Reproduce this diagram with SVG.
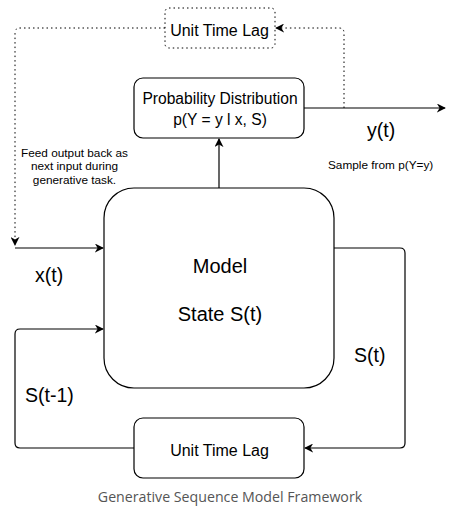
<svg xmlns="http://www.w3.org/2000/svg" width="453" height="512" viewBox="0 0 453 512">
<style>
.box{fill:#fff;stroke:#000;stroke-width:1.2}
.dot{fill:#fff;stroke:#000;stroke-width:1;stroke-dasharray:1.5 3}
.ln{fill:none;stroke:#000;stroke-width:1.2}
.dl{fill:none;stroke:#000;stroke-width:1;stroke-dasharray:1.5 3}
text{font-family:"Liberation Sans",Arial,sans-serif;fill:#000}
.t16{font-size:16px;text-anchor:middle}
.tp{font-size:15.6px;text-anchor:middle}
.t19{font-size:19.5px}
.t20{font-size:20px;text-anchor:middle}
.t12{font-size:11.8px}
.cap{font-family:"Open Sans","Noto Sans",sans-serif;font-size:14.2px;fill:#555;text-anchor:middle}
</style>
<defs>
<marker id="ah" viewBox="0 0 10 10" refX="9" refY="5" markerWidth="9" markerHeight="9" markerUnits="userSpaceOnUse" orient="auto">
<path d="M0,0 L10,5 L0,10 L3,5 Z" fill="#000"/>
</marker>
</defs>
<g id="connectors">
<path class="dl" d="M165,28 H20 Q15,28 15,33 V245" marker-end="url(#ah)"/>
<path class="dl" d="M344,108 V33 Q344,28 339,28 H276" marker-end="url(#ah)"/>
<path class="ln" d="M304,108 H445" marker-end="url(#ah)"/>
<path class="ln" d="M219,188 V139" marker-end="url(#ah)"/>
<path class="ln" d="M15,248 H103" marker-end="url(#ah)"/>
<path class="ln" d="M134,448 H20 Q15,448 15,443 V334 Q15,329 20,329 H103" marker-end="url(#ah)"/>
<path class="ln" d="M334,248 H400 Q405,248 405,253 V443 Q405,448 400,448 H305" marker-end="url(#ah)"/>
</g>
<g id="node-lag-top">
<rect class="dot" x="165" y="8" width="110" height="40" rx="4"/>
<text class="t16" x="219.5" y="36">Unit Time Lag</text>
</g>
<g id="node-prob">
<rect class="box" x="134" y="78" width="170" height="60" rx="9"/>
<text class="tp" x="220" y="104">Probability Distribution</text>
<text class="tp" x="220" y="125">p(Y = y l x, S)</text>
</g>
<g id="node-model">
<rect class="box" x="104" y="188" width="230" height="200" rx="30"/>
<text class="t20" x="220" y="273">Model</text>
<text class="t20" x="220" y="321">State S(t)</text>
</g>
<g id="node-lag-bottom">
<rect class="box" x="134" y="418" width="170" height="60" rx="9"/>
<text class="t16" x="219.5" y="456">Unit Time Lag</text>
</g>
<g id="labels">
<text class="t19" x="367" y="137">y(t)</text>
<text class="t12" x="328" y="169">Sample from p(Y=y)</text>
<text class="t12" style="text-anchor:middle" x="74.5" y="157">Feed output back as</text>
<text class="t12" style="text-anchor:middle" x="74.5" y="170">next input during</text>
<text class="t12" style="text-anchor:middle" x="74.5" y="184">generative task.</text>
<text class="t19" x="35" y="282">x(t)</text>
<text class="t19" x="354" y="362">S(t)</text>
<text class="t19" x="25" y="402">S(t-1)</text>
<text class="cap" x="230" y="502">Generative Sequence Model Framework</text>
</g>
</svg>
